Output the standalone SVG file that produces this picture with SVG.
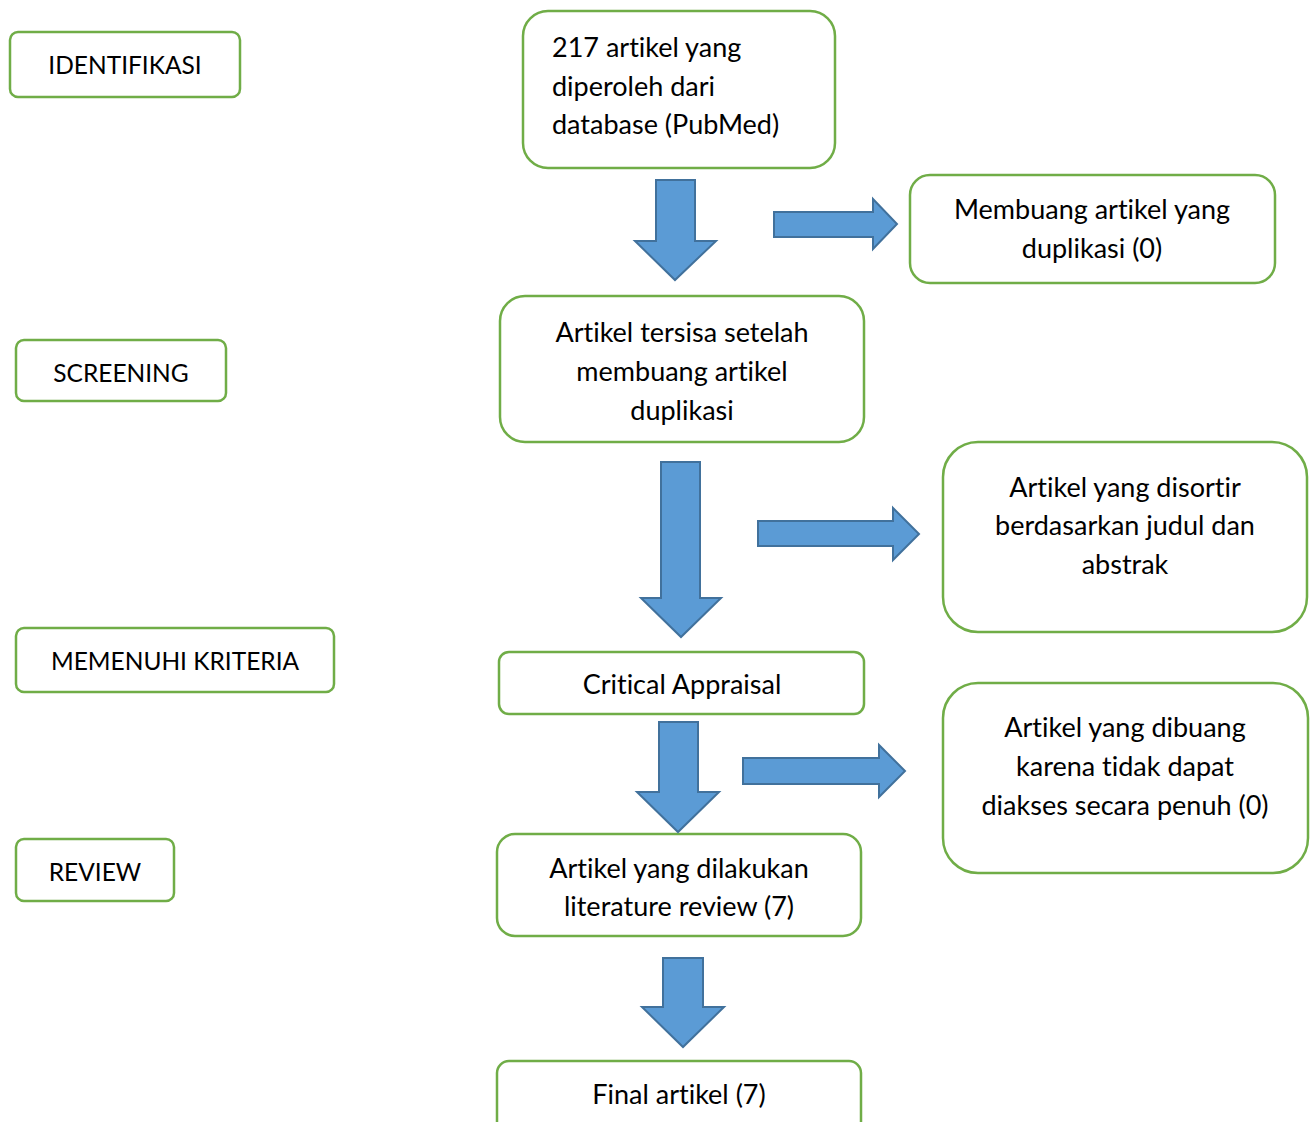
<svg xmlns="http://www.w3.org/2000/svg" width="1315" height="1122" viewBox="0 0 1315 1122">
<style>
.box{fill:#fff;stroke:#70AD47;stroke-width:2.5}
.t{font-family:Lato,"Liberation Sans",sans-serif;font-size:27px;fill:#000;font-variant-ligatures:none;font-feature-settings:"liga" 0,"dlig" 0,"clig" 0}
.k{font-size:24.5px}
.c{text-anchor:middle}
.arr{fill:#5B9BD5;stroke:#41719C;stroke-width:2;stroke-linejoin:miter}
</style>
<rect width="1315" height="1122" fill="#fff"/>
<g id="identifikasi"><rect class="box" x="10" y="32" width="230" height="65" rx="8"/><text class="t k c" x="125" y="74">IDENTIFIKASI</text></g>
<g id="screening"><rect class="box" x="16" y="340" width="210" height="61" rx="8"/><text class="t k c" x="121" y="382">SCREENING</text></g>
<g id="memenuhi"><rect class="box" x="16" y="628" width="318" height="64" rx="8"/><text class="t k c" x="175" y="670">MEMENUHI KRITERIA</text></g>
<g id="review"><rect class="box" x="16" y="839" width="158" height="62" rx="8"/><text class="t k c" x="95" y="881">REVIEW</text></g>
<g id="n1"><rect class="box" x="523" y="11" width="312" height="157" rx="25"/><text class="t" x="552" y="57">217 artikel yang</text><text class="t" x="552" y="96">diperoleh dari</text><text class="t" x="552" y="134">database (PubMed)</text></g>
<g id="n2"><rect class="box" x="910" y="175" width="365" height="108" rx="20"/><text class="t c" x="1092" y="219">Membuang artikel yang</text><text class="t c" x="1092" y="258">duplikasi (0)</text></g>
<g id="n3"><rect class="box" x="500" y="296" width="364" height="146" rx="25"/><text class="t c" x="682" y="342">Artikel tersisa setelah</text><text class="t c" x="682" y="381">membuang artikel</text><text class="t c" x="682" y="420">duplikasi</text></g>
<g id="n4"><rect class="box" x="943" y="442" width="364" height="190" rx="35"/><text class="t c" x="1125" y="497">Artikel yang disortir</text><text class="t c" x="1125" y="535">berdasarkan judul dan</text><text class="t c" x="1125" y="574">abstrak</text></g>
<g id="n5"><rect class="box" x="499" y="652" width="365" height="62" rx="10"/><text class="t c" x="682" y="694">Critical Appraisal</text></g>
<g id="n6"><rect class="box" x="943" y="683" width="365" height="190" rx="35"/><text class="t c" x="1125" y="737">Artikel yang dibuang</text><text class="t c" x="1125" y="776">karena tidak dapat</text><text class="t c" x="1125" y="815">diakses secara penuh (0)</text></g>
<g id="n7"><rect class="box" x="497" y="834" width="364" height="102" rx="18"/><text class="t c" x="679" y="878">Artikel yang dilakukan</text><text class="t c" x="679" y="916">literature review (7)</text></g>
<g id="n8"><rect class="box" x="497" y="1061" width="364" height="80" rx="12"/><text class="t c" x="679" y="1104">Final artikel (7)</text></g>
<g id="connectors">
<polygon class="arr" points="656,180 695,180 695,241 716,241 675,280 635,241 656,241"/>
<polygon class="arr" points="774,212 873,212 873,199 897,224 873,249 873,237 774,237"/>
<polygon class="arr" points="661,462 700,462 700,598 721,598 681,637 641,598 661,598"/>
<polygon class="arr" points="758,521 893,521 893,508 919,534 893,560 893,546 758,546"/>
<polygon class="arr" points="659,722 698,722 698,792 719,792 678,832 637,792 659,792"/>
<polygon class="arr" points="743,758 879,758 879,745 905,771 879,797 879,784 743,784"/>
<polygon class="arr" points="663,958 703,958 703,1007 724,1007 683,1047 642,1007 663,1007"/>
</g>
</svg>
